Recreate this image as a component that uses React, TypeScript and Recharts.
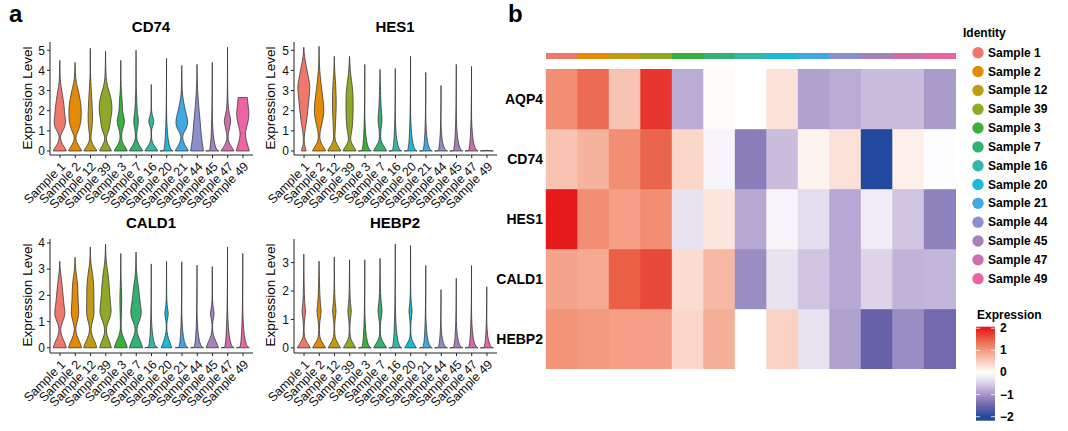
import React from "react";
import { ComposedChart, BarChart, Bar, XAxis, YAxis, Cell } from "recharts";

const SAMPLES = [
  "Sample 1", "Sample 2", "Sample 12", "Sample 39", "Sample 3", "Sample 7", "Sample 16",
  "Sample 20", "Sample 21", "Sample 44", "Sample 45", "Sample 47", "Sample 49",
];
const SAMPLE_COLORS = [
  "#ef786d", "#e38a06", "#c19a16", "#8ea925", "#3bb03b", "#33b173", "#33b8a8",
  "#1db9d9", "#40a8e3", "#8b8fcc", "#a880bb", "#cd6fac", "#ec64a3",
];

// violin outlines: [expression level, width as share of full violin width]
type Profile = [number, number][];
const flat = (max: number): Profile => (max > 0 ? [[0, 1], [0.03, 0], [max, 0]] : [[0, 1], [0.03, 0]]);

const CD74_VIOLINS: Profile[] = [
  [[0, 1], [0.12, 0.85], [0.3, 0.45], [0.55, 0.12], [0.75, 0.1], [0.95, 0.35], [1.2, 0.8], [1.5, 0.9], [1.8, 0.75], [2.1, 0.7], [2.5, 0.55], [3.0, 0.3], [3.4, 0.1], [3.8, 0.04], [4.5, 0]],
  [[0, 1], [0.12, 0.85], [0.3, 0.45], [0.55, 0.12], [0.75, 0.15], [1.0, 0.5], [1.35, 0.85], [1.7, 0.95], [2.0, 0.95], [2.3, 0.9], [2.6, 0.75], [3.0, 0.5], [3.4, 0.18], [3.9, 0.04], [4.4, 0]],
  [[0, 1], [0.12, 0.8], [0.3, 0.4], [0.55, 0.1], [0.8, 0.12], [1.1, 0.25], [1.4, 0.32], [1.7, 0.35], [2.0, 0.32], [2.4, 0.26], [2.8, 0.2], [3.2, 0.12], [3.6, 0.05], [4.2, 0.02], [5.1, 0]],
  [[0, 0.9], [0.12, 0.75], [0.3, 0.4], [0.55, 0.1], [0.8, 0.2], [1.05, 0.55], [1.35, 0.7], [1.6, 0.8], [1.9, 0.95], [2.2, 1.0], [2.6, 0.85], [3.0, 0.5], [3.4, 0.15], [4.0, 0.04], [4.95, 0]],
  [[0, 1], [0.12, 0.85], [0.3, 0.45], [0.55, 0.12], [0.85, 0.12], [1.1, 0.3], [1.35, 0.55], [1.6, 0.55], [1.9, 0.3], [2.2, 0.25], [2.6, 0.18], [3.0, 0.08], [3.5, 0.03], [4.5, 0]],
  [[0, 1], [0.12, 0.85], [0.3, 0.45], [0.55, 0.12], [0.85, 0.1], [1.1, 0.2], [1.35, 0.35], [1.6, 0.35], [1.9, 0.2], [2.2, 0.15], [2.6, 0.1], [3.0, 0.05], [3.5, 0.02], [5.0, 0]],
  [[0, 1], [0.12, 0.8], [0.3, 0.35], [0.55, 0.05], [0.85, 0.03], [1.1, 0.05], [1.35, 0.35], [1.5, 0.4], [1.65, 0.3], [1.9, 0.04], [2.4, 0.02], [3.3, 0]],
  flat(4.6),
  [[0, 1], [0.12, 0.85], [0.3, 0.45], [0.6, 0.1], [0.85, 0.2], [1.1, 0.7], [1.4, 0.95], [1.7, 0.8], [2.0, 0.55], [2.4, 0.3], [2.8, 0.1], [3.3, 0.04], [4.25, 0]],
  [[0, 1], [0.2, 0.9], [0.5, 0.75], [0.8, 0.65], [1.2, 0.55], [1.6, 0.45], [2.0, 0.32], [2.5, 0.2], [3.0, 0.1], [3.5, 0.04], [4.3, 0]],
  flat(4.4),
  [[0, 1], [0.12, 0.8], [0.3, 0.4], [0.55, 0.08], [0.85, 0.1], [1.2, 0.35], [1.5, 0.55], [1.8, 0.3], [2.2, 0.1], [2.6, 0.06], [3.0, 0.03], [3.5, 0.01], [5.15, 0]],
  [[0, 1], [0.2, 0.85], [0.5, 0.55], [0.8, 0.4], [1.0, 0.45], [1.3, 0.7], [1.6, 0.9], [1.9, 0.95], [2.2, 0.85], [2.5, 0.75], [2.65, 0.7]],
];

const HES1_VIOLINS: Profile[] = [
  [[0, 0.35], [0.12, 0.3], [0.3, 0.1], [0.55, 0.05], [0.9, 0.12], [1.3, 0.35], [1.8, 0.55], [2.3, 0.7], [2.8, 0.85], [3.2, 0.95], [3.6, 0.75], [4.0, 0.5], [4.5, 0.2], [4.9, 0.04], [5.15, 0]],
  [[0, 1], [0.12, 0.85], [0.3, 0.45], [0.55, 0.12], [0.85, 0.12], [1.1, 0.25], [1.5, 0.55], [1.9, 0.75], [2.3, 0.7], [2.7, 0.55], [3.1, 0.4], [3.5, 0.25], [4.0, 0.1], [4.5, 0.03], [5.2, 0]],
  [[0, 1], [0.12, 0.85], [0.3, 0.45], [0.55, 0.1], [0.85, 0.1], [1.1, 0.15], [1.5, 0.2], [2.0, 0.28], [2.5, 0.3], [3.0, 0.25], [3.5, 0.18], [4.0, 0.05], [4.7, 0]],
  [[0, 1], [0.12, 0.85], [0.3, 0.45], [0.55, 0.12], [0.85, 0.25], [1.1, 0.4], [1.5, 0.5], [2.0, 0.55], [2.5, 0.55], [3.0, 0.5], [3.5, 0.3], [4.0, 0.1], [4.7, 0]],
  flat(4.3),
  [[0, 1], [0.12, 0.85], [0.3, 0.45], [0.55, 0.1], [0.85, 0.1], [1.1, 0.15], [1.4, 0.3], [1.7, 0.3], [2.0, 0.2], [2.5, 0.12], [3.0, 0.08], [3.5, 0.03], [4.05, 0]],
  flat(4.1), flat(4.7), flat(3.9), flat(3.25), flat(4.3), flat(4.2), flat(0),
];

const CALD1_VIOLINS: Profile[] = [
  [[0, 1], [0.15, 0.85], [0.35, 0.45], [0.6, 0.1], [0.85, 0.2], [1.1, 0.6], [1.3, 0.85], [1.6, 0.65], [2.0, 0.5], [2.4, 0.35], [2.7, 0.2], [3.0, 0.05], [3.3, 0]],
  [[0, 1], [0.15, 0.85], [0.35, 0.45], [0.6, 0.1], [0.85, 0.15], [1.1, 0.45], [1.35, 0.6], [1.7, 0.5], [2.0, 0.45], [2.4, 0.4], [2.7, 0.25], [3.0, 0.08], [3.45, 0]],
  [[0, 1], [0.15, 0.85], [0.35, 0.45], [0.6, 0.1], [0.85, 0.15], [1.1, 0.45], [1.35, 0.6], [1.7, 0.55], [2.1, 0.55], [2.5, 0.5], [2.9, 0.3], [3.2, 0.1], [3.5, 0.03], [3.85, 0]],
  [[0, 0.9], [0.15, 0.75], [0.35, 0.4], [0.6, 0.1], [0.85, 0.2], [1.1, 0.6], [1.35, 0.9], [1.6, 0.8], [2.0, 0.65], [2.4, 0.55], [2.8, 0.4], [3.1, 0.2], [3.5, 0.05], [3.95, 0]],
  [[0, 1], [0.15, 0.85], [0.35, 0.45], [0.6, 0.1], [0.85, 0.05], [1.1, 0.08], [1.5, 0.12], [1.9, 0.15], [2.1, 0.12], [2.5, 0.06], [3.0, 0.02], [3.6, 0]],
  [[0, 1], [0.15, 0.85], [0.35, 0.5], [0.6, 0.12], [0.85, 0.2], [1.1, 0.65], [1.35, 0.85], [1.6, 0.7], [2.0, 0.5], [2.3, 0.4], [2.6, 0.2], [3.0, 0.05], [3.65, 0]],
  flat(3.2),
  [[0, 0.8], [0.15, 0.6], [0.35, 0.3], [0.6, 0.05], [0.9, 0.03], [1.1, 0.15], [1.3, 0.3], [1.5, 0.15], [1.8, 0.04], [2.2, 0.02], [3.3, 0]],
  flat(3.28), flat(3.15),
  [[0, 0.95], [0.15, 0.75], [0.35, 0.35], [0.6, 0.05], [0.9, 0.03], [1.1, 0.15], [1.3, 0.32], [1.5, 0.15], [1.8, 0.04], [2.2, 0.02], [3.1, 0]],
  flat(3.85), flat(3.6),
];

const HEBP2_VIOLINS: Profile[] = [
  [[0, 1], [0.12, 0.7], [0.3, 0.2], [0.5, 0.05], [0.8, 0.05], [1.05, 0.15], [1.3, 0.3], [1.55, 0.15], [1.9, 0.08], [2.3, 0.05], [2.8, 0.02], [3.3, 0]],
  [[0, 1], [0.12, 0.7], [0.3, 0.2], [0.5, 0.05], [0.8, 0.06], [1.05, 0.2], [1.3, 0.35], [1.55, 0.2], [1.9, 0.12], [2.3, 0.06], [2.8, 0.02], [3.05, 0]],
  [[0, 0.95], [0.12, 0.65], [0.3, 0.2], [0.5, 0.05], [0.8, 0.05], [1.05, 0.15], [1.3, 0.3], [1.55, 0.15], [1.9, 0.06], [2.3, 0.03], [2.8, 0.01], [3.2, 0]],
  [[0, 0.95], [0.12, 0.65], [0.3, 0.2], [0.5, 0.05], [0.8, 0.05], [1.05, 0.15], [1.3, 0.3], [1.55, 0.15], [1.9, 0.06], [2.3, 0.03], [2.8, 0.01], [3.1, 0]],
  flat(3.1),
  [[0, 1], [0.12, 0.7], [0.3, 0.2], [0.5, 0.05], [0.8, 0.05], [1.05, 0.18], [1.3, 0.35], [1.55, 0.2], [1.9, 0.08], [2.3, 0.04], [2.8, 0.02], [3.15, 0]],
  flat(3.65),
  [[0, 0.9], [0.12, 0.6], [0.3, 0.15], [0.5, 0.04], [0.8, 0.04], [1.05, 0.12], [1.3, 0.28], [1.55, 0.12], [1.9, 0.03], [2.3, 0.02], [3.6, 0]],
  flat(2.9), flat(2.05), flat(2.45), flat(2.9), flat(2.15),
];

// heatmap (scaled average expression), rows top to bottom
const GENES = ["AQP4", "CD74", "HES1", "CALD1", "HEBP2"];
const AQP4_Z = [1.1, 1.4, 0.6, 1.8, -0.8, 0.05, 0, 0.3, -0.9, -0.8, -0.65, -0.65, -0.95];
const CD74_Z = [0.6, 0.75, 1.1, 1.45, 0.4, -0.1, -1.25, -0.65, 0.12, 0.3, -2.0, 0.15, -0.03];
const HES1_Z = [2.0, 1.1, 0.95, 1.1, -0.3, 0.25, -0.85, -0.1, -0.35, -0.85, -0.2, -0.6, -1.2];
const CALD1_Z = [0.9, 0.85, 1.5, 1.65, 0.35, 0.7, -1.1, -0.3, -0.6, -0.85, -0.45, -0.75, -0.72];
const HEBP2_Z = [1.05, 1.0, 0.95, 0.95, 0.4, 0.8, 0, 0.45, -0.3, -0.9, -1.55, -1.1, -1.45];
const LEGEND_TICKS = [2, 1, 0, -1, -2];

const COLOR_STOPS: [number, string][] = [
  [-2, "#214a9e"], [-1.5, "#6f64ab"], [-1, "#a597c9"], [-0.5, "#d9cfe7"], [0, "#ffffff"],
  [0.5, "#f9cdbd"], [1, "#f39a80"], [1.5, "#ea5f46"], [2, "#e41a1c"],
];

function hexToRgb(h: string) {
  return [1, 3, 5].map((i) => parseInt(h.slice(i, i + 2), 16));
}
function colorFor(v: number) {
  const c = Math.max(-2, Math.min(2, v));
  for (let i = 0; i < COLOR_STOPS.length - 1; i++) {
    const [v0, c0] = COLOR_STOPS[i];
    const [v1, c1] = COLOR_STOPS[i + 1];
    if (c >= v0 && c <= v1) {
      const t = (c - v0) / (v1 - v0);
      const a = hexToRgb(c0), b = hexToRgb(c1);
      const m = a.map((x, k) => Math.round(x + (b[k] - x) * t));
      return `rgb(${m[0]},${m[1]},${m[2]})`;
    }
  }
  return "#ffffff";
}

const FONT = "'Liberation Sans', Arial, Helvetica, sans-serif";

function smooth(pts: number[][]) {
  let d = "";
  for (let i = 1; i < pts.length - 1; i++) {
    const mx = (pts[i][0] + pts[i + 1][0]) / 2;
    const my = (pts[i][1] + pts[i + 1][1]) / 2;
    d += ` Q${pts[i][0]},${pts[i][1]} ${mx},${my}`;
  }
  const last = pts[pts.length - 1];
  return d + ` L${last[0]},${last[1]}`;
}

const makeViolin = (top: number) => (props: any) => {
  const { x, y, width, height, payload } = props;
  if (!payload || !payload.profile) return <g />;
  const base = y + height;
  const unit = height / top;
  const cx = x + width / 2;
  const half = width / 2;
  const prof: Profile = payload.profile;
  const right = prof.map(([v, w]) => [cx + w * half, base - v * unit]);
  const left = prof.map(([v, w]) => [cx - w * half, base - v * unit]).reverse();
  const d = `M${right[0][0]},${right[0][1]}` + smooth(right) + ` L${left[0][0]},${left[0][1]}` + smooth(left) + " Z";
  return <path d={d} fill={payload.color} stroke="#333" strokeWidth={0.75} strokeLinejoin="round" />;
};

function ViolinPanel({ left, top, height, marginTop, xAxisHeight, domain, ticks, profiles }: any) {
  const data = SAMPLES.map((name, i) => ({ name, profile: profiles[i], color: SAMPLE_COLORS[i] }));
  return (
    <div style={{ position: "absolute", left, top }}>
      <ComposedChart
        width={260}
        height={height}
        data={data}
        margin={{ top: marginTop, right: 7, left: 20, bottom: 0 }}
        barCategoryGap="6%"
      >
        <XAxis
          dataKey="name"
          interval={0}
          angle={-45}
          textAnchor="end"
          height={xAxisHeight}
          padding={{ left: 2.4, right: 2.4 }}
          tick={{ fontSize: 12.5, fill: "#111" }}
          tickSize={3}
          tickMargin={3}
          stroke="#222"
        />
        <YAxis
          width={30}
          domain={domain}
          ticks={ticks}
          type="number"
          allowDataOverflow
          tick={{ fontSize: 12, fill: "#111" }}
          tickSize={3}
          stroke="#222"
        />
        <Bar dataKey={() => domain[1]} shape={makeViolin(domain[1])} isAnimationActive={false} />
      </ComposedChart>
    </div>
  );
}

export default function App() {
  const heatData = SAMPLES.map((name, i) => ({
    name,
    AQP4: AQP4_Z[i],
    CD74: CD74_Z[i],
    HES1: HES1_Z[i],
    CALD1: CALD1_Z[i],
    HEBP2: HEBP2_Z[i],
  }));
  const bottomUp = [...GENES].reverse();
  const barTop = 326.7, barBottom = 420.7, vTop = 2.07, vBottom = -2.18;
  const vy = (v: number) => barTop + ((vTop - v) / (vTop - vBottom)) * (barBottom - barTop);

  return (
    <div style={{ position: "absolute", left: 0, top: 0, width: 1068, height: 431, background: "#fff", fontFamily: FONT, overflow: "hidden" }}>
      <ViolinPanel left={0} top={0} height={215} marginTop={42} xAxisHeight={60} domain={[-0.2, 5.41]} ticks={[0, 1, 2, 3, 4, 5]} profiles={CD74_VIOLINS} />
      <ViolinPanel left={244} top={0} height={215} marginTop={42} xAxisHeight={60} domain={[-0.2, 5.41]} ticks={[0, 1, 2, 3, 4, 5]} profiles={HES1_VIOLINS} />
      <ViolinPanel left={0} top={215} height={216} marginTop={24} xAxisHeight={78} domain={[-0.2, 4.15]} ticks={[0, 1, 2, 3, 4]} profiles={CALD1_VIOLINS} />
      <ViolinPanel left={244} top={215} height={216} marginTop={24} xAxisHeight={78} domain={[-0.18, 3.83]} ticks={[0, 1, 2, 3]} profiles={HEBP2_VIOLINS} />

      {/* identity strip */}
      <div style={{ position: "absolute", left: 546, top: 53 }}>
        <BarChart width={409.5} height={6} data={heatData} margin={{ top: 0, right: 0, left: 0, bottom: 0 }} barCategoryGap={0}>
          <XAxis dataKey="name" hide />
          <YAxis hide domain={[0, 1]} />
          <Bar dataKey={() => 1} isAnimationActive={false}>
            {SAMPLE_COLORS.map((c, i) => (
              <Cell key={i} fill={c} stroke={c} strokeWidth={0.4} />
            ))}
          </Bar>
        </BarChart>
      </div>

      {/* heatmap */}
      <div style={{ position: "absolute", left: 486, top: 69 }}>
        <BarChart width={469.5} height={300} data={heatData} margin={{ top: 0, right: 0, left: 0, bottom: 0 }} barCategoryGap={0}>
          <XAxis dataKey="name" hide />
          <YAxis
            type="number"
            width={60}
            domain={[0, 5]}
            ticks={[0.5, 1.5, 2.5, 3.5, 4.5]}
            tickFormatter={(v: number) => bottomUp[Math.floor(v)]}
            tick={{ fontSize: 14, fontWeight: "bold", fill: "#000" }}
            tickLine={false}
            axisLine={false}
            tickSize={0}
            tickMargin={3}
          />
          {bottomUp.map((g) => (
            <Bar key={g} dataKey={() => 1} stackId="h" isAnimationActive={false}>
              {heatData.map((row: any, i) => (
                <Cell key={i} fill={colorFor(row[g])} stroke={colorFor(row[g])} strokeWidth={0.4} />
              ))}
            </Bar>
          ))}
        </BarChart>
      </div>

      <svg width={1068} height={431} style={{ position: "absolute", left: 0, top: 0, pointerEvents: "none" }} fontFamily={FONT}>
        <defs>
          <linearGradient id="expr" x1="0" y1="0" x2="0" y2="1">
            {COLOR_STOPS.map(([v, c]) => (
              <stop key={v} offset={(vTop - v) / (vTop - vBottom)} stopColor={c} />
            )).reverse()}
          </linearGradient>
        </defs>
        <text x={9} y={22} fontSize={24} fontWeight="bold">a</text>
        <text x={508} y={22} fontSize={24} fontWeight="bold">b</text>

        <text x={151} y={32} fontSize={15} fontWeight="bold" textAnchor="middle">CD74</text>
        <text x={395} y={32} fontSize={15} fontWeight="bold" textAnchor="middle">HES1</text>
        <text x={151} y={228} fontSize={15} fontWeight="bold" textAnchor="middle">CALD1</text>
        <text x={395} y={228} fontSize={15} fontWeight="bold" textAnchor="middle">HEBP2</text>

        {[[27, 98], [270, 98], [27, 295], [270, 295]].map(([x, y], i) => (
          <text key={i} x={x} y={y} fontSize={13.5} textAnchor="middle" dominantBaseline="central" transform={`rotate(-90 ${x} ${y})`}>
            Expression Level
          </text>
        ))}

        <text x={963} y={37} fontSize={12} fontWeight="bold">Identity</text>
        {SAMPLES.map((s, i) => {
          const cy = 52.7 + i * 18.83;
          return (
            <g key={s}>
              <circle cx={978} cy={cy} r={5.7} fill={SAMPLE_COLORS[i]} />
              <text x={988} y={cy} fontSize={12} fontWeight="bold" dominantBaseline="central">{s}</text>
            </g>
          );
        })}

        <text x={977} y={319} fontSize={12} fontWeight="bold">Expression</text>
        <rect x={976} y={barTop} width={19} height={barBottom - barTop} fill="url(#expr)" />
        {LEGEND_TICKS.map((t) => (
          <g key={t}>
            <line x1={976} x2={980} y1={vy(t)} y2={vy(t)} stroke="#fff" strokeWidth={0.8} />
            <line x1={991} x2={995} y1={vy(t)} y2={vy(t)} stroke="#fff" strokeWidth={0.8} />
            <text x={1000} y={vy(t)} fontSize={12} fontWeight="bold" dominantBaseline="central">
              {t < 0 ? `\u2212${-t}` : t}
            </text>
          </g>
        ))}
      </svg>
    </div>
  );
}
